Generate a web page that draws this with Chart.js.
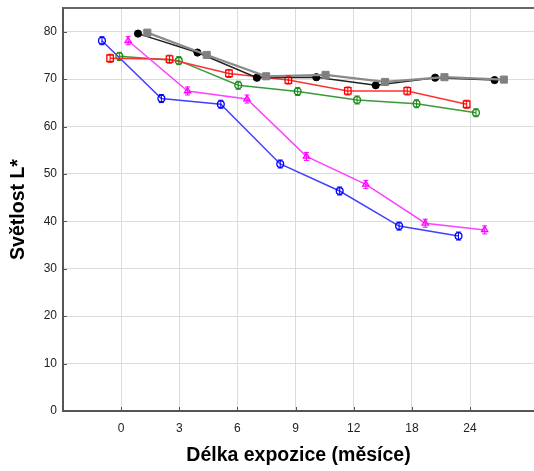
<!DOCTYPE html>
<html>
<head>
<meta charset="utf-8">
<script src="https://cdn.jsdelivr.net/npm/chart.js@4"></script>
<style>
    html, body { margin: 0; padding: 0; background: #fff; overflow: hidden; }
    canvas { display: block; }
</style>
</head>
<body>
<canvas id="chartCanvas" width="534" height="471"></canvas>
<script>
// months of exposure (category labels)
const months = ['0', '3', '6', '9', '12', '18', '24'];
const yTicks = [0, 10, 20, 30, 40, 50, 60, 70, 80];

// L* values per series
const blueValues = [78.1, 65.9, 64.7, 52.1, 46.4, 39.0, 36.9];
const magentaValues = [78.1, 67.5, 65.8, 53.7, 47.8, 39.6, 38.2];
const redValues = [74.4, 74.2, 71.2, 69.8, 67.5, 67.5, 64.7];
const greenValues = [74.8, 73.9, 68.7, 67.4, 65.6, 64.8, 62.9];
const blackValues = [79.6, 75.6, 70.3, 70.4, 68.7, 70.3, 69.8];
const grayValues = [79.8, 75.1, 70.6, 70.9, 69.4, 70.4, 69.9];

// horizontal jitter of each series around the category position
const jitter = { blue: -0.33, magenta: 0.12, red: -0.19, green: -0.03, black: 0.29, gray: 0.45 };
const pointStep = 1.022;

function toPoints(values, shift) {
    return values.map((v, i) => ({ x: i * pointStep + shift, y: v }));
}

function series(values, shift, color, lineColor, style, radius, filled, bars, order, width) {
    return {
        data: toPoints(values, shift),
        borderColor: lineColor,
        backgroundColor: filled ? color : '#fff',
        pointBorderColor: color,
        pointBackgroundColor: filled ? color : 'rgba(255,255,255,0)',
        pointStyle: style,
        pointRadius: radius,
        pointBorderWidth: filled ? 1 : 1.3,
        borderWidth: width || 1.5,
        tension: 0,
        errBars: bars,
        order: order,
    };
}

const FONT = '"Liberation Sans", Arial, sans-serif';

// small error-bar glyph through the hollow markers, inside tick marks and top border
const decor = {
    id: 'decor',
    afterDatasetsDraw(chart) {
        const ctx = chart.ctx;
        chart.data.datasets.forEach((ds, di) => {
            if (!ds.errBars) return;
            const meta = chart.getDatasetMeta(di);
            ctx.save();
            ctx.strokeStyle = ds.pointBorderColor;
            ctx.lineWidth = 1;
            meta.data.forEach((pt) => {
                ctx.beginPath();
                ctx.moveTo(pt.x, pt.y - 4);
                ctx.lineTo(pt.x, pt.y + 4);
                ctx.moveTo(pt.x - 2.5, pt.y - 4);
                ctx.lineTo(pt.x + 2.5, pt.y - 4);
                ctx.moveTo(pt.x - 2.5, pt.y + 4);
                ctx.lineTo(pt.x + 2.5, pt.y + 4);
                ctx.stroke();
            });
            ctx.restore();
        });
    },
    afterDraw(chart) {
        const ctx = chart.ctx;
        const a = chart.chartArea;
        const xs = chart.scales.x;
        const ys = chart.scales.y;
        ctx.save();
        ctx.strokeStyle = '#555';
        ctx.lineWidth = 1;
        ys.ticks.forEach((t) => {
            const y = Math.round(ys.getPixelForValue(t.value)) + 0.5;
            ctx.beginPath();
            ctx.moveTo(a.left, y);
            ctx.lineTo(a.left + 4, y);
            ctx.stroke();
        });
        xs.ticks.forEach((t) => {
            const x = Math.round(xs.getPixelForValue(t.value)) + 0.5;
            ctx.beginPath();
            ctx.moveTo(x, a.bottom);
            ctx.lineTo(x, a.bottom - 4);
            ctx.stroke();
        });
        ctx.lineWidth = 2;
        ctx.strokeStyle = '#666';
        ctx.beginPath();
        ctx.moveTo(a.left, a.top);
        ctx.lineTo(a.right, a.top);
        ctx.stroke();
        ctx.restore();
    },
};

const cha = document.getElementById('chartCanvas').getContext('2d');
new Chart(cha, {
    type: 'line',
    data: {
        datasets: [
            series(grayValues, jitter.gray, '#808080', '#8a8a8a', 'rect', 5, true, false, 1, 2.2),
            series(blackValues, jitter.black, '#000', '#222', 'circle', 3.6, true, false, 2),
            series(magentaValues, jitter.magenta, '#ff00ff', '#ff40ff', 'triangle', 3.6, false, true, 3),
            series(redValues, jitter.red, '#ff0000', '#ff3030', 'rect', 4.6, false, true, 4),
            series(greenValues, jitter.green, '#1a8a1a', '#3a9a3a', 'circle', 3.4, false, true, 5),
            series(blueValues, jitter.blue, '#0000ff', '#4040ff', 'circle', 3.4, false, true, 6),
        ],
    },
    options: {
        responsive: false,
        animation: false,
        devicePixelRatio: 1,
        layout: { autoPadding: false, padding: { top: 8, right: 0, left: 0, bottom: 0 } },
        plugins: {
            legend: { display: false },
            tooltip: { enabled: false },
        },
        scales: {
            x: {
                type: 'linear',
                min: -1,
                max: 7.1,
                afterBuildTicks: (axis) => {
                    axis.ticks = months.map((m, i) => ({ value: i }));
                },
                afterFit: (axis) => {
                    axis.height = 60;
                    axis.paddingLeft = 0;
                    axis.paddingRight = 0;
                },
                ticks: {
                    autoSkip: false,
                    maxRotation: 0,
                    padding: 10,
                    color: '#222',
                    font: { family: FONT, size: 12 },
                    callback: (v) => months[v],
                },
                grid: { color: '#dcdcdc', lineWidth: 1, drawTicks: false },
                border: { color: '#555', width: 2 },
                title: {
                    display: true,
                    text: 'Délka expozice (měsíce)',
                    color: '#000',
                    font: { family: FONT, size: 19.5, weight: 'bold' },
                    padding: { top: 2, bottom: 4 },
                },
            },
            y: {
                min: 0,
                max: 85,
                afterBuildTicks: (axis) => {
                    axis.ticks = yTicks.map((v) => ({ value: v }));
                },
                afterFit: (axis) => {
                    axis.width = 63;
                    axis.paddingTop = 0;
                    axis.paddingBottom = 0;
                },
                ticks: {
                    padding: 6,
                    color: '#222',
                    font: { family: FONT, size: 12 },
                },
                grid: { color: '#dcdcdc', lineWidth: 1, drawTicks: false },
                border: { color: '#555', width: 2 },
                title: {
                    display: true,
                    text: 'Světlost L*',
                    color: '#000',
                    font: { family: FONT, size: 19.5, weight: 'bold' },
                    padding: { top: 7, bottom: 2 },
                },
            },
        },
    },
    plugins: [decor],
});
</script>
</body>
</html>
